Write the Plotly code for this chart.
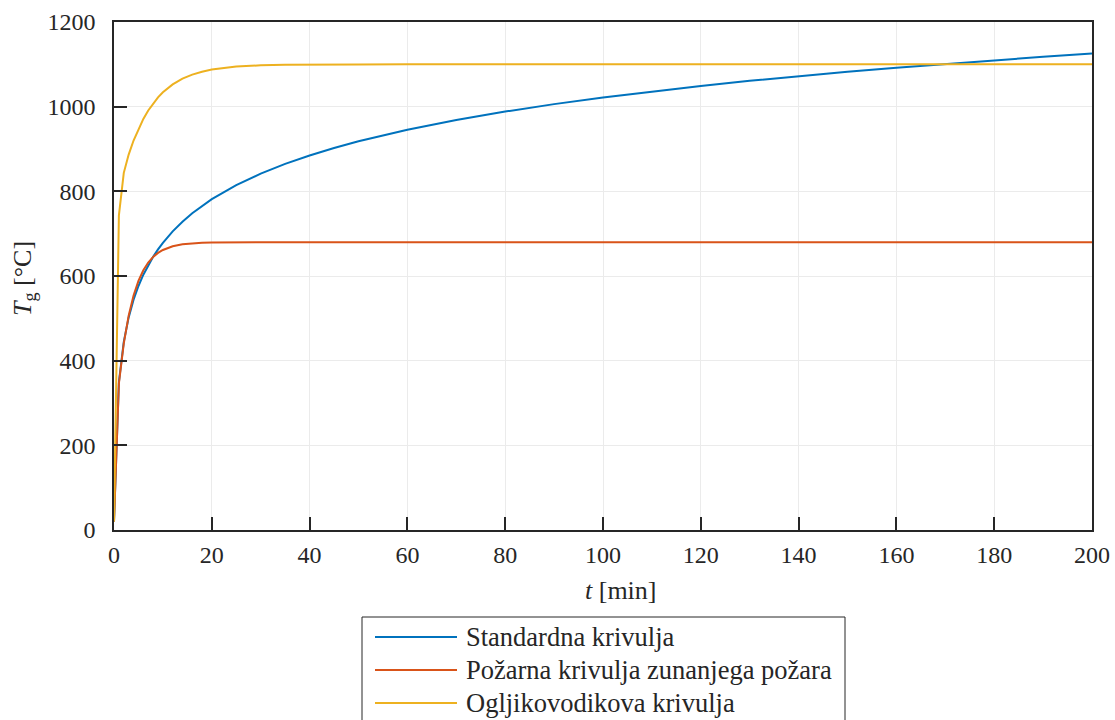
import plotly.graph_objects as go

# Time samples [min]
t_min = [0, 1, 2, 3, 4, 5, 6, 7, 8, 9, 10, 12, 14, 16, 18, 20, 25, 30, 35, 40, 45,
         50, 60, 70, 80, 90, 100, 110, 120, 130, 140, 150, 160, 170, 180, 190, 200]

# Gas temperature [°C] for each fire curve
standardna = [20, 349.2, 444.5, 502.3, 543.9, 576.4, 603.1, 625.8, 645.5, 662.8, 678.4,
              705.4, 728.3, 748.2, 765.7, 781.4, 814.6, 841.8, 864.8, 884.7, 902.3,
              918.1, 945.3, 968.4, 988.4, 1006.0, 1021.8, 1036.0, 1049.0, 1061.0,
              1072.1, 1082.4, 1092.1, 1101.2, 1109.7, 1117.8, 1125.5]
zunanji = [20, 346.1, 440.8, 506.4, 553.9, 588.5, 613.5, 631.7, 645.0, 654.5, 661.5,
           670.3, 674.9, 677.3, 678.6, 679.2, 679.8, 680.0, 680.0, 680.0, 680.0,
           680.0, 680.0, 680.0, 680.0, 680.0, 680.0, 680.0, 680.0, 680.0,
           680.0, 680.0, 680.0, 680.0, 680.0, 680.0, 680.0]
ogljikovodikova = [20, 743.2, 843.7, 886.9, 920.0, 947.7, 971.1, 990.9, 1007.7, 1021.9,
                   1033.9, 1052.7, 1066.1, 1075.7, 1082.6, 1087.6, 1094.6, 1097.7,
                   1099.0, 1099.6, 1099.8, 1099.9, 1100.0, 1100.0, 1100.0, 1100.0,
                   1100.0, 1100.0, 1100.0, 1100.0, 1100.0, 1100.0, 1100.0, 1100.0,
                   1100.0, 1100.0, 1100.0]

names = ["Standardna krivulja", "Požarna krivulja zunanjega požara", "Ogljikovodikova krivulja"]
colors = ["#0072BD", "#D95319", "#EDB120"]
series = [standardna, zunanji, ogljikovodikova]

x_ticks = [0, 20, 40, 60, 80, 100, 120, 140, 160, 180, 200]
y_ticks = [0, 200, 400, 600, 800, 1000, 1200]

W, H = 1115, 720
L, R, T, B = 114, 23, 22, 190
FONT = "Liberation Serif"
AX = "#262626"

fig = go.Figure()
for name, col, ys in zip(names, colors, series):
    fig.add_trace(go.Scatter(x=t_min, y=ys, mode="lines", name=name,
                             line=dict(color=col, width=2), showlegend=False))

axis_common = dict(
    showline=True, linecolor=AX, linewidth=1.5, mirror=True,
    ticks="inside", ticklen=13, tickwidth=1.5, tickcolor=AX,
    showgrid=True, gridcolor="#EBEBEB", gridwidth=1, zeroline=False,
    tickfont=dict(family=FONT, size=24, color=AX), automargin=False,
)
fig.update_xaxes(range=[0, 200], tickvals=x_ticks, ticklabelstandoff=2, **axis_common)
fig.update_yaxes(range=[0, 1200], tickvals=y_ticks, ticklabelstandoff=12, **axis_common)

# Axis titles
pw = W - L - R
ph = H - T - B
def px_x(p):
    return (p - L) / pw
def px_y(p):
    return (H - B - p) / ph

annotations = [
    dict(text="<i>t</i> [min]", x=px_x(621), y=px_y(590), xref="paper", yref="paper",
         showarrow=False, xanchor="center", yanchor="middle",
         font=dict(family=FONT, size=26, color=AX)),
    dict(text="<i>T</i><sub>g</sub> [°C]", x=px_x(24), y=px_y(279), xref="paper",
         yref="paper", showarrow=False, xanchor="center", yanchor="middle", textangle=-90,
         font=dict(family=FONT, size=26, color=AX)),
]

# Legend box drawn below the axes
shapes = [dict(type="rect", xref="paper", yref="paper",
               x0=px_x(362), x1=px_x(845), y0=px_y(617), y1=px_y(740),
               line=dict(color=AX, width=1), fillcolor="white", layer="above")]
row_y = [637, 670, 703]
for name, col, ry in zip(names, colors, row_y):
    shapes.append(dict(type="line", xref="paper", yref="paper",
                       x0=px_x(375), x1=px_x(457), y0=px_y(ry), y1=px_y(ry),
                       line=dict(color=col, width=2), layer="above"))
    annotations.append(dict(text=name, x=px_x(464), y=px_y(ry), xref="paper", yref="paper",
                            showarrow=False, xanchor="left", yanchor="middle",
                            font=dict(family=FONT, size=26.5, color=AX)))

fig.update_layout(
    width=W, height=H, margin=dict(l=L, r=R, t=T, b=B),
    paper_bgcolor="white", plot_bgcolor="white",
    font=dict(family=FONT, size=24, color=AX),
    shapes=shapes, annotations=annotations, showlegend=False,
)

fig.write_html("out.html")
